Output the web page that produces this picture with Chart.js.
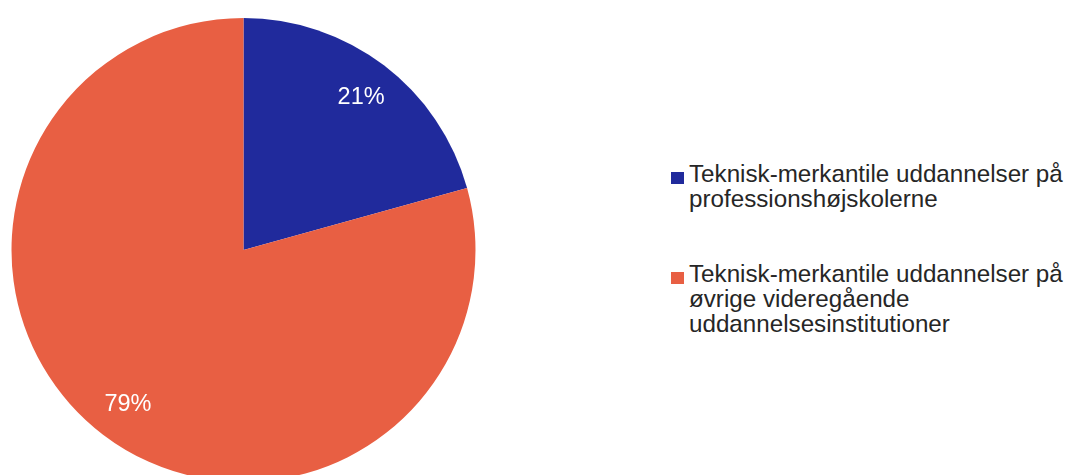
<!DOCTYPE html>
<html>
<head>
<meta charset="utf-8">
<script src="https://cdn.jsdelivr.net/npm/chart.js@4/dist/chart.umd.min.js"></script>
<style>
  html, body { margin: 0; padding: 0; background: #fff; }
  #wrap { position: relative; width: 1066px; height: 475px; overflow: hidden; font-family: "Liberation Sans", Arial, sans-serif; }
  #pie-box { position: absolute; left: 0; top: 0; width: 490px; height: 500px; }
  #legend { position: absolute; left: 671px; top: 161px; color: #262626; font-size: 24.2px; line-height: 25px; }
  .item { position: relative; padding-left: 18px; margin-bottom: 50px; white-space: nowrap; }
  .box { position: absolute; left: 0; top: 11px; width: 13px; height: 12px; }
</style>
</head>
<body>
<div id="wrap">
  <div id="pie-box"><canvas id="pie"></canvas></div>
  <div id="legend"></div>
</div>
<script>
const labels = [
  ["Teknisk-merkantile uddannelser på", "professionshøjskolerne"],
  ["Teknisk-merkantile uddannelser på", "øvrige videregående", "uddannelsesinstitutioner"]
];
const values = [20.7, 79.3];
const colors = ["#202a9c", "#e85f43"];

// percentage text inside each slice
const sliceLabels = {
  id: "sliceLabels",
  afterDatasetsDraw(chart) {
    const ctx = chart.ctx;
    const meta = chart.getDatasetMeta(0);
    const total = values.reduce((a, b) => a + b, 0);
    ctx.save();
    ctx.fillStyle = "#fff";
    ctx.font = '23.5px "Liberation Sans", Arial, sans-serif';
    ctx.textAlign = "center";
    ctx.textBaseline = "middle";
    meta.data.forEach((arc, i) => {
      const mid = (arc.startAngle + arc.endAngle) / 2;
      const r = arc.outerRadius * 0.83;
      const x = arc.x + Math.cos(mid) * r;
      const y = arc.y + Math.sin(mid) * r;
      ctx.fillText(Math.round(values[i] / total * 100) + "%", x + 1, y + 1);
    });
    ctx.restore();
  }
};

new Chart(document.getElementById("pie"), {
  type: "pie",
  data: {
    labels: labels,
    datasets: [{
      data: values,
      backgroundColor: colors,
      borderWidth: 0
    }]
  },
  options: {
    responsive: true,
    maintainAspectRatio: false,
    animation: false,
    layout: { padding: { left: 11, top: 18, right: 14, bottom: 18 } },
    plugins: {
      legend: { display: false },
      tooltip: { enabled: false }
    }
  },
  plugins: [sliceLabels]
});

const legendEl = document.getElementById("legend");
labels.forEach((lines, i) => {
  const item = document.createElement("div");
  item.className = "item";
  const box = document.createElement("span");
  box.className = "box";
  box.style.background = colors[i];
  item.appendChild(box);
  item.innerHTML += lines.join("<br>");
  legendEl.appendChild(item);
});
</script>
</body>
</html>
